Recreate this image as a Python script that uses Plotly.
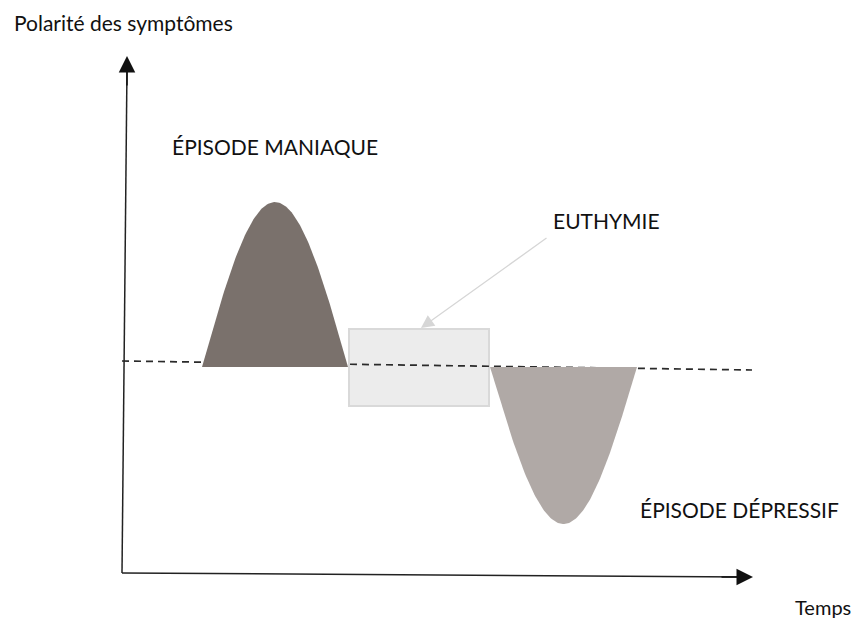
import numpy as np
import plotly.graph_objects as go

# ---- data (time units on x, polarity units on y) ----
mania_time = [202, 348]          # start / end of manic episode
mania_peak = [165]               # peak polarity
depression_time = [490, 637]     # start / end of depressive episode
depression_trough = [-157]       # trough polarity
euthymia_time = [349, 489]       # euthymic interval
euthymia_band = [-39, 38]        # polarity band of euthymia
baseline_time = [122, 752]
baseline_polarity = [6, -3]
labels = ["ÉPISODE MANIAQUE", "EUTHYMIE", "ÉPISODE DÉPRESSIF"]
axis_titles = ["Polarité des symptômes", "Temps"]

FONT = "Lato"

def bell(t0, t1, amp, n=120):
    t = np.linspace(0, 1, n)
    x = t0 + (t1 - t0) * t
    y = amp * np.sin(np.pi * t)
    return np.concatenate([x, [t1, t0]]), np.concatenate([y, [0, 0]])

fig = go.Figure()

# baseline dashed
fig.add_trace(go.Scatter(x=baseline_time, y=baseline_polarity, mode="lines",
                         line=dict(color="#2a2a2a", width=1.7, dash="7px,5px"),
                         hoverinfo="skip", showlegend=False))

mx, my = bell(mania_time[0], mania_time[1], mania_peak[0])
fig.add_trace(go.Scatter(x=mx, y=my, fill="toself", mode="lines",
                         line=dict(width=0, color="#7a716c"), fillcolor="#7a716c",
                         hoverinfo="skip", showlegend=False))
dx, dy = bell(depression_time[0], depression_time[1], depression_trough[0])
fig.add_trace(go.Scatter(x=dx, y=dy, fill="toself", mode="lines",
                         line=dict(width=0, color="#b0a9a6"), fillcolor="#b0a9a6",
                         hoverinfo="skip", showlegend=False))

fig.add_shape(type="rect", x0=euthymia_time[0], x1=euthymia_time[1],
              y0=euthymia_band[0], y1=euthymia_band[1],
              fillcolor="#ececec", line=dict(color="#d9d9d9", width=2), layer="below")

# axes with arrows
fig.add_shape(type="line", x0=122, y0=-206, x1=127, y1=300, line=dict(color="#222", width=1.5))
fig.add_shape(type="line", x0=122, y0=-206, x1=745, y1=-210, line=dict(color="#222", width=1.5))
fig.add_annotation(x=127, y=311, ax=127, ay=280, xref="x", yref="y", axref="x", ayref="y",
                   showarrow=True, arrowhead=2, arrowsize=2.2, arrowwidth=1.5,
                   arrowcolor="#111", text="")
fig.add_annotation(x=753, y=-210, ax=720, ay=-210, xref="x", yref="y", axref="x", ayref="y",
                   showarrow=True, arrowhead=2, arrowsize=2.2, arrowwidth=1.5,
                   arrowcolor="#111", text="")
# euthymia pointer
fig.add_annotation(x=421, y=39, ax=548, ay=130, xref="x", yref="y", axref="x", ayref="y",
                   showarrow=True, arrowhead=2, arrowsize=2.0, arrowwidth=1.3,
                   arrowcolor="#d6d6d6", text="")

tf = dict(family=FONT, size=21, color="#111")
fig.add_annotation(x=12, y=345, xref="x", yref="y", text=axis_titles[0], showarrow=False,
                   xanchor="left", yanchor="middle", font=tf)
fig.add_annotation(x=793, y=-240, xref="x", yref="y", text=axis_titles[1], showarrow=False,
                   xanchor="left", yanchor="middle", font=dict(family=FONT, size=20, color="#111"))
fig.add_annotation(x=170, y=221, xref="x", yref="y", text=labels[0], showarrow=False,
                   xanchor="left", yanchor="middle", font=tf)
fig.add_annotation(x=551, y=147, xref="x", yref="y", text=labels[1], showarrow=False,
                   xanchor="left", yanchor="middle", font=tf)
fig.add_annotation(x=638, y=-142, xref="x", yref="y", text=labels[2], showarrow=False,
                   xanchor="left", yanchor="middle", font=tf)

# page body has an 8px margin: shrink figure and shift ranges so drawing lands in place
fig.update_layout(width=854, height=610, margin=dict(l=0, r=0, t=0, b=0),
                  paper_bgcolor="white", plot_bgcolor="white",
                  xaxis=dict(range=[8, 862], visible=False, fixedrange=True),
                  yaxis=dict(range=[-251, 359], visible=False, fixedrange=True),
                  showlegend=False)
fig.write_html("out.html")
